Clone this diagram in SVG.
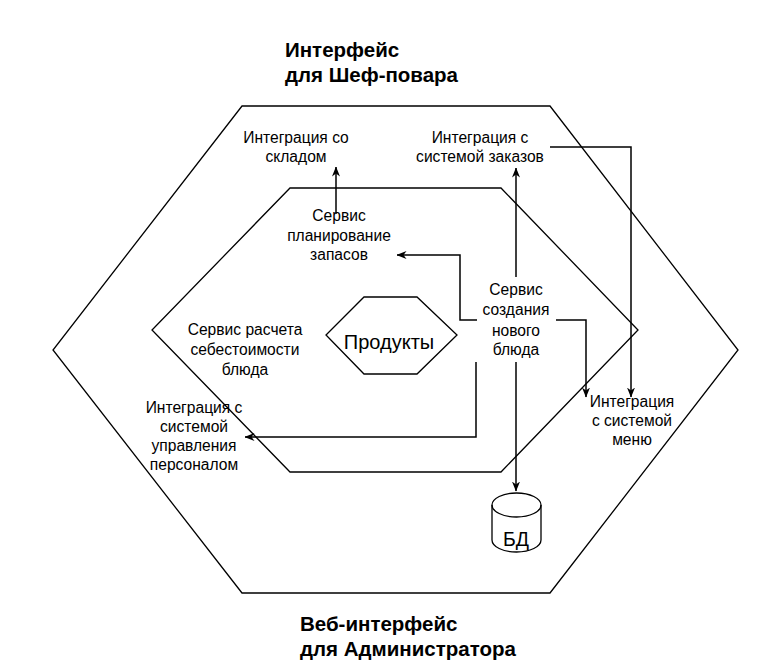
<svg xmlns="http://www.w3.org/2000/svg" width="760" height="671" viewBox="0 0 760 671">
<style>
.shape{fill:#fff;stroke:#000;stroke-width:1.3}
.t{font-family:"Liberation Sans",Arial,sans-serif;font-size:15.6px;fill:#000;text-anchor:middle}
.b{font-family:"Liberation Sans",Arial,sans-serif;font-size:20.5px;font-weight:bold;fill:#000}
.c{fill:none;stroke:#000;stroke-width:1.5}
</style>
<defs>
<marker id="arr" viewBox="0 0 10 8" refX="9.5" refY="4" markerWidth="10" markerHeight="8" markerUnits="userSpaceOnUse" orient="auto">
<path d="M0,0 L10,4 L0,8 L3,4 z" fill="#000"/>
</marker>
</defs>
<rect width="760" height="671" fill="#fff"/>
<g id="outer-hex"><polygon class="shape" points="242,106 550,106 738,350 550,593 242,593 53,350"/></g>
<g id="inner-hex"><polygon class="shape" points="290,188 501,188 638,330 501,472 290,472 152,330"/></g>
<g id="products"><polygon class="shape" points="364,297 417,297 457,335 417,374 364,374 326,335"/><text class="t" x="389" y="349" style="font-size:20px">Продукты</text></g>
<g id="title-chef"><text class="b" x="285" y="57">Интерфейс</text><text class="b" x="285" y="82">для Шеф-повара</text></g>
<g id="title-admin"><text class="b" x="300" y="631">Веб-интерфейс</text><text class="b" x="300" y="656">для Администратора</text></g>
<g id="int-sklad"><text class="t" x="296" y="143">Интеграция со</text><text class="t" x="296" y="162">складом</text></g>
<g id="int-orders"><text class="t" x="480" y="143">Интеграция с</text><text class="t" x="480" y="162">системой заказов</text></g>
<g id="svc-stock"><text class="t" x="339" y="221">Сервис</text><text class="t" x="339" y="241">планирование</text><text class="t" x="339" y="260">запасов</text></g>
<g id="svc-new"><text class="t" x="516" y="295">Сервис</text><text class="t" x="516" y="315">создания</text><text class="t" x="516" y="336">нового</text><text class="t" x="516" y="355">блюда</text></g>
<g id="svc-cost"><text class="t" x="245" y="335">Сервис расчета</text><text class="t" x="245" y="355">себестоимости</text><text class="t" x="245" y="375">блюда</text></g>
<g id="int-staff"><text class="t" x="194" y="413">Интеграция с</text><text class="t" x="194" y="432">системой</text><text class="t" x="194" y="451">управления</text><text class="t" x="194" y="470">персоналом</text></g>
<g id="int-menu"><text class="t" x="632" y="407">Интеграция</text><text class="t" x="632" y="426">с системой</text><text class="t" x="632" y="445">меню</text></g>
<g id="db"><path class="shape" d="M492,505 a24.5,12 0 0 1 49,0 v35 a24.5,12 0 0 1 -49,0 z"/><path class="shape" style="fill:none" d="M492,505 a24.5,12 0 0 0 49,0"/><text class="t" x="516" y="546" style="font-size:19.5px">БД</text></g>
<g id="connectors">
<path class="c" marker-end="url(#arr)" d="M336,214 V167"/>
<path class="c" marker-end="url(#arr)" d="M516,277 V168"/>
<path class="c" marker-end="url(#arr)" d="M477,320 H460 V255 H397"/>
<path class="c" marker-end="url(#arr)" d="M556,320 H586 V397"/>
<path class="c" marker-end="url(#arr)" d="M476,362 V437 H245"/>
<path class="c" marker-end="url(#arr)" d="M516,362 V491"/>
<path class="c" marker-end="url(#arr)" d="M550,147 H631 V397"/>
</g>
</svg>
